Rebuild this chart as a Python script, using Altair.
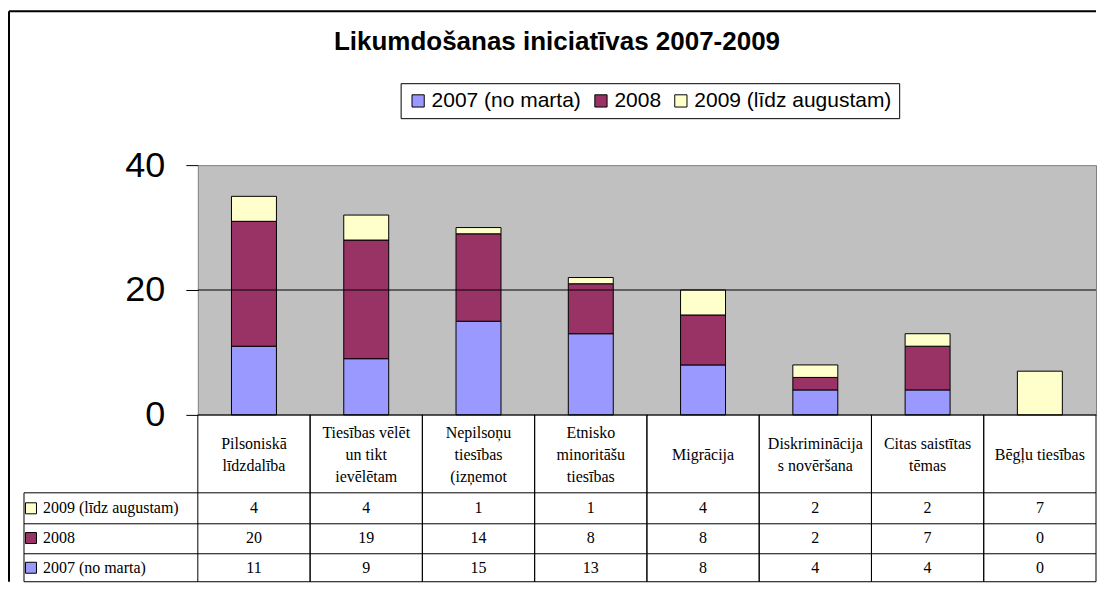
import altair as alt
import pandas as pd

# ---- data ----
categories = [
    "Pilsoniskā\nlīdzdalība",
    "Tiesības vēlēt\nun tikt\nievēlētam",
    "Nepilsoņu\ntiesības\n(izņemot",
    "Etnisko\nminoritāšu\ntiesības",
    "Migrācija",
    "Diskriminācija\ns novēršana",
    "Citas saistītas\ntēmas",
    "Bēgļu tiesības",
]
series = ["2007 (no marta)", "2008", "2009 (līdz augustam)"]
v2007 = [11, 9, 15, 13, 8, 4, 4, 0]
v2008 = [20, 19, 14, 8, 8, 2, 7, 0]
v2009 = [4, 4, 1, 1, 4, 2, 2, 7]
colors = ["#9999FF", "#993366", "#FFFFCC"]
y_ticks = [0, 20, 40]
title_text = "Likumdošanas iniciatīvas 2007-2009"

rows = []
for s_i, (s, vals) in enumerate(zip(series, [v2007, v2008, v2009])):
    for c, v in zip(categories, vals):
        rows.append({"cat": c, "series": s, "value": v, "order": s_i})
df = pd.DataFrame(rows)
cat_df = pd.DataFrame({"cat": categories, "nlines": [c.count("\n") + 1 for c in categories]})
ser_df = pd.DataFrame({"series": series})
one = pd.DataFrame({"a": [0]})

# ---- geometry (pixels, relative to plot origin) ----
W, H = 899, 250
LINE_H = 22
HEADER_MID = 290
ROW_LINES = [328, 359, 389, 417]
TABLE_BOTTOM = ROW_LINES[-1]
HEADER_BOTTOM = ROW_LINES[0]
LABEL_LEFT = -174

xscale = alt.Scale(domain=categories, paddingInner=0, paddingOuter=0)
yscale = alt.Scale(domain=[0, 40], nice=False, zero=True)
row_scale = alt.Scale(
    domain=series[::-1],
    range=[(ROW_LINES[0] + ROW_LINES[1]) / 2, (ROW_LINES[2] + ROW_LINES[3]) / 2],
    padding=0,
)


def xenc(bp=None):
    if bp is None:
        return alt.X("cat:N", sort=categories, scale=xscale, axis=None)
    return alt.X("cat:N", sort=categories, scale=xscale, axis=None, bandPosition=bp)


bars = alt.Chart(df).transform_filter("datum.value > 0").mark_bar(
    size=45, stroke="black", strokeWidth=1
).encode(
    x=xenc(),
    y=alt.Y(
        "value:Q", stack="zero", scale=yscale,
        axis=alt.Axis(values=y_ticks, title=None, grid=False, domain=False,
                      tickSize=12, tickColor="black", tickWidth=1,
                      labelFont="Liberation Sans", labelFontSize=36,
                      labelColor="black", labelPadding=21),
    ),
    color=alt.Color(
        "series:N", scale=alt.Scale(domain=series, range=colors),
        legend=alt.Legend(
            title=None, orient="none", legendX=203, legendY=-82,
            direction="horizontal", symbolType="square", symbolSize=150,
            symbolStrokeColor="black", symbolStrokeWidth=1,
            labelFont="Liberation Sans", labelFontSize=21, labelColor="black",
            columnPadding=9, labelOffset=3, strokeColor="black", padding=7,
            fillColor="white", labelLimit=400,
        ),
    ),
    order=alt.Order("order:Q", sort="ascending"),
)

grid20 = alt.Chart(pd.DataFrame({"y": [20]})).mark_rule(color="black", strokeWidth=1).encode(
    y=alt.Y("y:Q", scale=yscale, axis=None)
)
zero_line = alt.Chart(pd.DataFrame({"y": [0]})).mark_rule(color="black", strokeWidth=1).encode(
    y=alt.Y("y:Q", scale=yscale, axis=None), x=alt.value(0), x2=alt.value(W)
)

# ---- data table ----
headers = [
    alt.Chart(cat_df).transform_filter(f"datum.nlines == {n}").mark_text(
        font="Liberation Serif", fontSize=16, color="black", lineBreak="\n",
        lineHeight=LINE_H, baseline="middle"
    ).encode(x=xenc(), y=alt.value(HEADER_MID - (n - 1) * LINE_H / 2), text="cat:N")
    for n in (1, 2, 3)
]

cells = alt.Chart(df).mark_text(
    font="Liberation Serif", fontSize=16, color="black", baseline="middle"
).encode(
    x=xenc(),
    y=alt.Y("series:N", scale=row_scale, axis=None),
    text="value:Q",
)

row_sym = alt.Chart(ser_df).mark_square(size=121, stroke="black", strokeWidth=1, opacity=1).encode(
    x=alt.value(-167),
    y=alt.Y("series:N", scale=row_scale, axis=None),
    fill=alt.Fill("series:N", scale=alt.Scale(domain=series, range=colors), legend=None),
)
row_txt = alt.Chart(ser_df).mark_text(
    font="Liberation Serif", fontSize=16, color="black", align="left", baseline="middle"
).encode(
    x=alt.value(-155),
    y=alt.Y("series:N", scale=row_scale, axis=None),
    text="series:N",
)

vl0 = alt.Chart(cat_df).mark_rule(color="black", strokeWidth=1).encode(
    x=xenc(0), y=alt.value(H), y2=alt.value(TABLE_BOTTOM)
)
vl1 = alt.Chart(cat_df).mark_rule(color="black", strokeWidth=1).encode(
    x=xenc(1), y=alt.value(H), y2=alt.value(TABLE_BOTTOM)
)
vleft = alt.Chart(one).mark_rule(color="black", strokeWidth=1).encode(
    x=alt.value(LABEL_LEFT), y=alt.value(HEADER_BOTTOM), y2=alt.value(TABLE_BOTTOM)
)
hlines = [
    alt.Chart(one).mark_rule(color="black", strokeWidth=1).encode(
        x=alt.value(LABEL_LEFT), x2=alt.value(W), y=alt.value(yy)
    )
    for yy in ROW_LINES
]

# ---- outer chart frame ----
frame_left = alt.Chart(one).mark_rule(color="black", strokeWidth=2).encode(
    x=alt.value(-189), y=alt.value(-154), y2=alt.value(TABLE_BOTTOM)
)
frame_top = alt.Chart(one).mark_rule(color="black", strokeWidth=2).encode(
    x=alt.value(-189), x2=alt.value(W), y=alt.value(-154)
)

chart = alt.layer(
    frame_left, frame_top, bars, grid20, zero_line, *headers, cells, row_sym, row_txt,
    vl0, vl1, vleft, *hlines
).resolve_scale(y="independent").properties(
    width=W, height=H,
    title=alt.TitleParams(
        text=title_text, font="Liberation Sans", fontSize=26, fontWeight="bold",
        color="black", anchor="middle", dx=-90, offset=-45,
    ),
    padding={"left": 0, "top": 2, "right": 0, "bottom": 0},
    background="white",
).configure_view(fill="#C0C0C0", stroke="#808080", strokeWidth=1)

chart.save("out.html", embed_options={"renderer": "svg", "actions": False})
